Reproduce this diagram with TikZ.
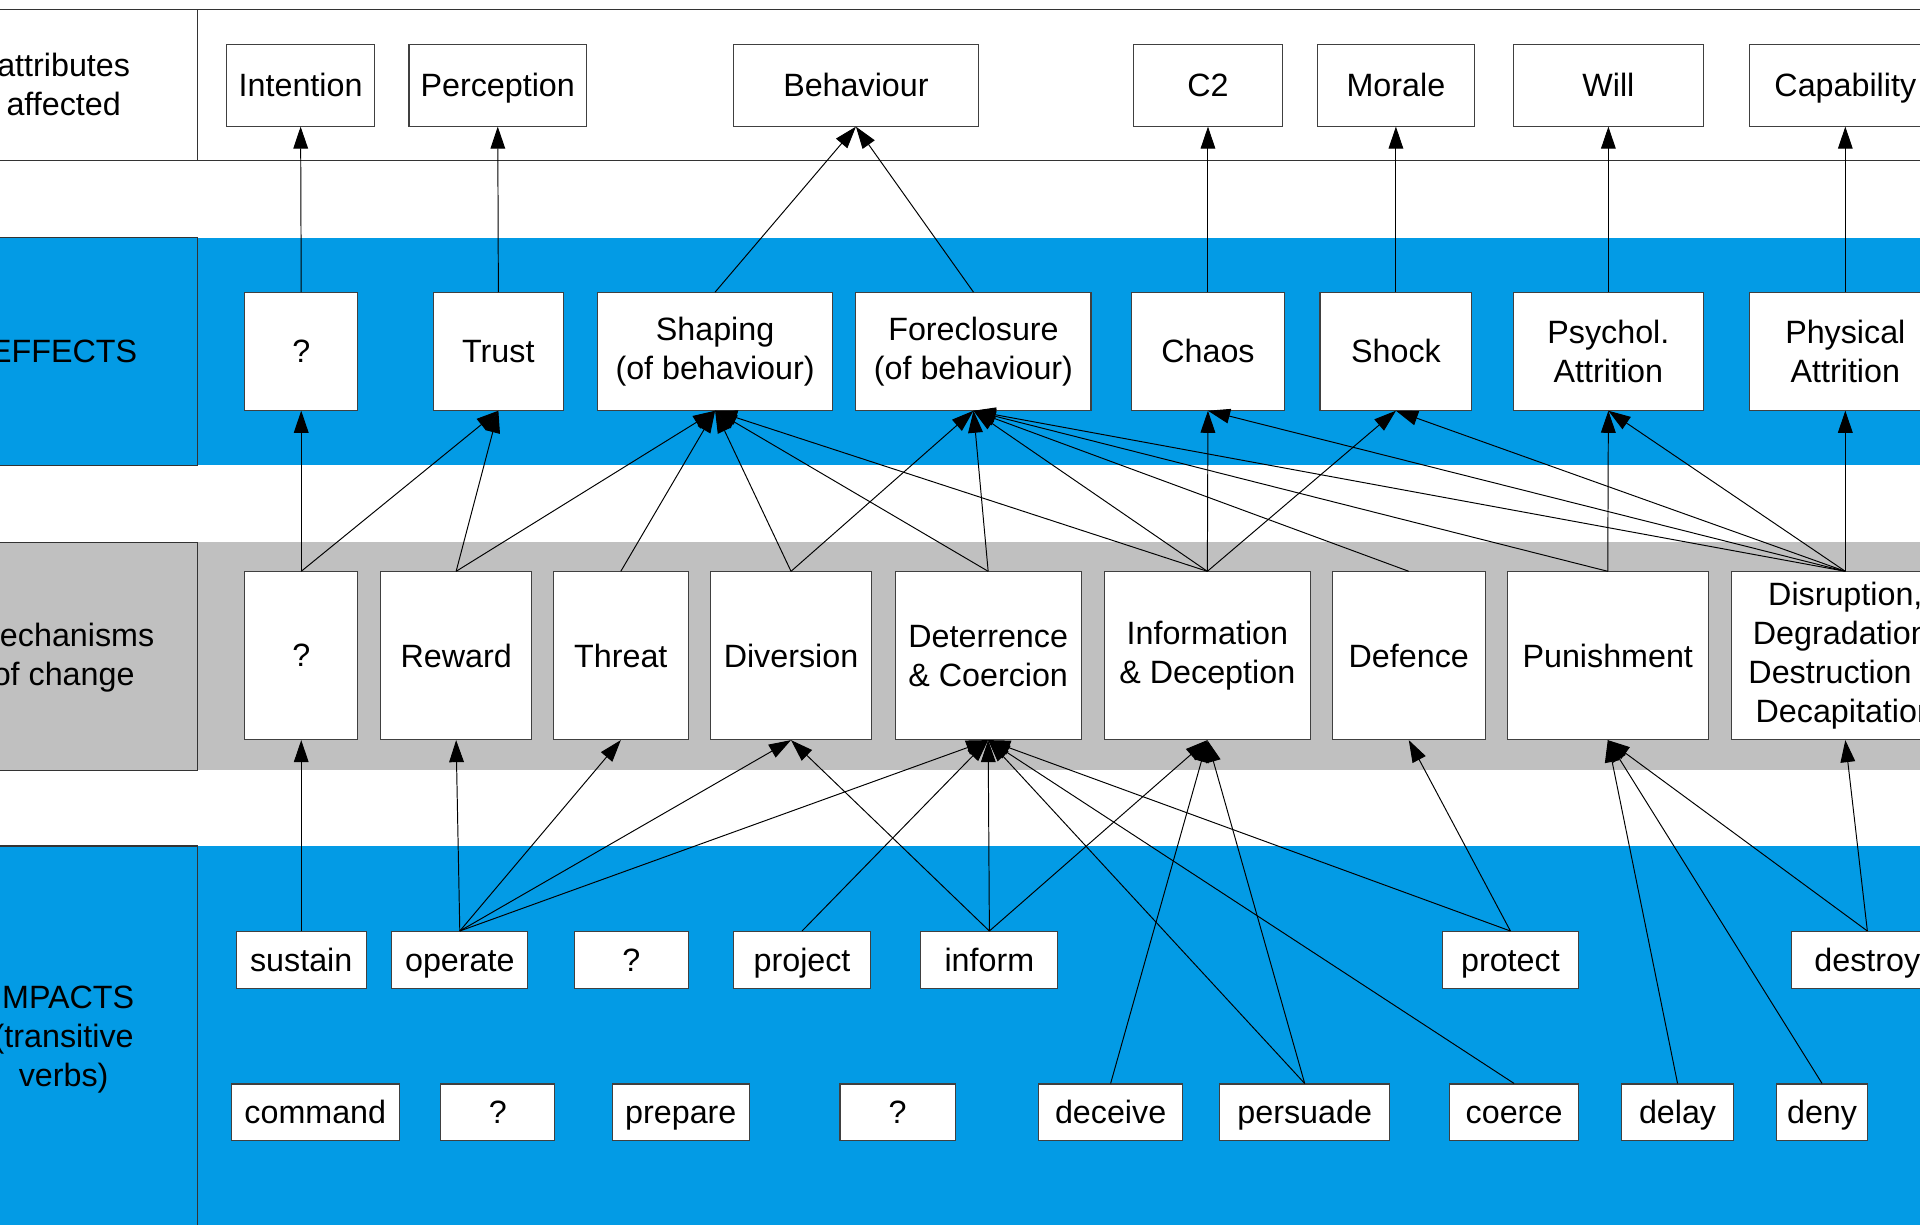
\documentclass[tikz,border=0pt]{standalone}
\usepackage{fontspec}
\setmainfont{Liberation Sans}
\usetikzlibrary{arrows,arrows.meta,positioning}
\definecolor{band_blue}{HTML}{039BE5}
\definecolor{band_grey}{HTML}{C0C0C0}
\newcommand{\boxfont}{\fontsize{15}{18.2}\selectfont}

\begin{document}
\begin{tikzpicture}[
	    x=0.02cm, y=-0.02cm,
	    onlytext/.style={align=center, font=\boxfont},
	    box/.style={rectangle, draw=black!75, fill=white, line width=0.5pt, align=center, font=\boxfont, inner sep=0pt},
	    oneline/.style={text height=12.5pt, text depth=2pt},
	    attrbox/.style={box, oneline, minimum height=1.34cm},
	    effbox/.style={box, minimum height=1.92cm},
	    mechbox/.style={box, minimum height=2.74cm},
	    impbox/.style={box, oneline, minimum height=0.93cm},
	    rowline/.style={draw=black!80, line width=0.6pt},
	    normalline/.style={-{Triangle[length=0.36cm, width=0.24cm]}, line width=0.45pt},
	]
	\path[use as bounding box, clip] (0,0) rectangle (1568,1000);

	% ------------ bands
	\fill[band_blue] (-60,194) rectangle (1620,380);
	\draw[rowline] (-60,194) rectangle (161,380);
	\fill[band_grey] (-60,443) rectangle (1620,629);
	\draw[rowline] (-60,443) rectangle (161,629);
	\fill[band_blue] (-60,691) rectangle (1620,1020);
	\draw[rowline] (-60,691) rectangle (161,1020);
	\draw[rowline] (-60,8) -- (1620,8);
	\draw[rowline] (-60,131) -- (1620,131);
	\draw[rowline] (161,8) -- (161,131);

	\node[onlytext] (attrlabel) at (52,69) {attributes\\affected};
	\node[onlytext] (efflabel) at (52,287) {EFFECTS};
	\node[onlytext] (mechlabel) at (52,537) {Mechanisms\\of change};
	\node[onlytext] (implabel) at (52,849) {IMPACTS\\(transitive\\verbs)};

	% ------------ attributes
	\node[attrbox, minimum width=2.42cm] (intention) at (245.5,69.5) {Intention};
	\node[attrbox, minimum width=2.90cm] (perception) at (406.5,69.5) {Perception};
	\node[attrbox, minimum width=4.00cm] (behaviour) at (699,69.5) {Behaviour};
	\node[attrbox, minimum width=2.42cm] (ctwo) at (986.5,69.5) {C2};
	\node[attrbox, minimum width=2.56cm] (morale) at (1140,69.5) {Morale};
	\node[attrbox, minimum width=3.10cm] (will) at (1313.5,69.5) {Will};
	\node[attrbox, minimum width=3.12cm] (capability) at (1507,69.5) {Capability};

	% ------------ effects
	\node[effbox, minimum width=1.84cm] (effq) at (246,287) {?};
	\node[effbox, minimum width=2.12cm] (efftrust) at (407,287) {Trust};
	\node[effbox, minimum width=3.84cm] (effshaping) at (584,287) {Shaping\\(of behaviour)};
	\node[effbox, minimum width=3.84cm] (effforeclose) at (795,287) {Foreclosure\\(of behaviour)};
	\node[effbox, minimum width=2.50cm] (effchaos) at (986.5,287) {Chaos};
	\node[effbox, minimum width=2.48cm] (effshock) at (1140,287) {Shock};
	\node[effbox, minimum width=3.10cm] (effpsychol) at (1313.5,287) {Psychol.\\Attrition};
	\node[effbox, minimum width=3.12cm] (effphysical) at (1507,287) {Physical\\Attrition};

	% ------------ mechanisms of change
	\node[mechbox, minimum width=1.84cm] (mechq) at (246,535.5) {?};
	\node[mechbox, minimum width=2.46cm] (mechreward) at (372.5,535.5) {Reward};
	\node[mechbox, minimum width=2.20cm] (mechthreat) at (507,535.5) {Threat};
	\node[mechbox, minimum width=2.64cm] (mechdiversion) at (646,535.5) {Diversion};
	\node[mechbox, minimum width=3.04cm] (mechdeter) at (807,535.5) {Deterrence\\\& Coercion};
	\node[mechbox, minimum width=3.36cm] (mechinfo) at (986,535.5) {Information\\\& Deception};
	\node[mechbox, minimum width=2.50cm] (mechdefence) at (1150.5,535.5) {Defence};
	\node[mechbox, minimum width=3.28cm] (mechpunish) at (1313,535.5) {Punishment};
	\node[mechbox, minimum width=3.72cm] (mechdisrupt) at (1507,535.5) {Disruption,\\Degradation,\\Destruction \&\\Decapitation};

	% ------------ impacts
	\node[impbox, minimum width=2.12cm] (sustain) at (246,784) {sustain};
	\node[impbox, minimum width=2.22cm] (operate) at (375.5,784) {operate};
	\node[impbox, minimum width=1.86cm] (impqa) at (515.5,784) {?};
	\node[impbox, minimum width=2.24cm] (project) at (655,784) {project};
	\node[impbox, minimum width=2.24cm] (inform) at (808,784) {inform};
	\node[impbox, minimum width=2.22cm] (protect) at (1233.5,784) {protect};
	\node[impbox, minimum width=2.48cm] (destroy) at (1525,784) {destroy};

	\node[impbox, minimum width=2.74cm] (command) at (257.5,908.5) {command};
	\node[impbox, minimum width=1.86cm] (impqb) at (406.5,908.5) {?};
	\node[impbox, minimum width=2.24cm] (prepare) at (556,908.5) {prepare};
	\node[impbox, minimum width=1.88cm] (impqc) at (733,908.5) {?};
	\node[impbox, minimum width=2.36cm] (deceive) at (907,908.5) {deceive};
	\node[impbox, minimum width=2.78cm] (persuade) at (1065.5,908.5) {persuade};
	\node[impbox, minimum width=2.10cm] (coerce) at (1236.5,908.5) {coerce};
	\node[impbox, minimum width=1.84cm] (delay) at (1370,908.5) {delay};
	\node[impbox, minimum width=1.48cm] (deny) at (1488,908.5) {deny};

	% ------------ effects -> attributes
	\draw [normalline] (effq.north) -- (intention.south);
	\draw [normalline] (efftrust.north) -- (perception.south);
	\draw [normalline] (effshaping.north) -- (behaviour.south);
	\draw [normalline] (effforeclose.north) -- (behaviour.south);
	\draw [normalline] (effchaos.north) -- (ctwo.south);
	\draw [normalline] (effshock.north) -- (morale.south);
	\draw [normalline] (effpsychol.north) -- (will.south);
	\draw [normalline] (effphysical.north) -- (capability.south);

	% ------------ mechanisms -> effects
	\draw [normalline] (mechq.north) -- (effq.south);
	\draw [normalline] (mechq.north) -- (efftrust.south);
	\draw [normalline] (mechreward.north) -- (efftrust.south);
	\draw [normalline] (mechreward.north) -- (effshaping.south);
	\draw [normalline] (mechthreat.north) -- (effshaping.south);
	\draw [normalline] (mechdiversion.north) -- (effshaping.south);
	\draw [normalline] (mechdiversion.north) -- (effforeclose.south);
	\draw [normalline] (mechdeter.north) -- (effshaping.south);
	\draw [normalline] (mechdeter.north) -- (effforeclose.south);
	\draw [normalline] (mechinfo.north) -- (effshaping.south);
	\draw [normalline] (mechinfo.north) -- (effforeclose.south);
	\draw [normalline] (mechinfo.north) -- (effchaos.south);
	\draw [normalline] (mechinfo.north) -- (effshock.south);
	\draw [normalline] (mechdefence.north) -- (effforeclose.south);
	\draw [normalline] (mechpunish.north) -- (effforeclose.south);
	\draw [normalline] (mechpunish.north) -- (effpsychol.south);
	\draw [normalline] (mechdisrupt.north) -- (effforeclose.south);
	\draw [normalline] (mechdisrupt.north) -- (effchaos.south);
	\draw [normalline] (mechdisrupt.north) -- (effshock.south);
	\draw [normalline] (mechdisrupt.north) -- (effpsychol.south);
	\draw [normalline] (mechdisrupt.north) -- (effphysical.south);

	% ------------ impacts -> mechanisms
	\draw [normalline] (sustain.north) -- (mechq.south);
	\draw [normalline] (operate.north) -- (mechreward.south);
	\draw [normalline] (operate.north) -- (mechthreat.south);
	\draw [normalline] (operate.north) -- (mechdiversion.south);
	\draw [normalline] (operate.north) -- (mechdeter.south);
	\draw [normalline] (project.north) -- (mechdeter.south);
	\draw [normalline] (inform.north) -- (mechdiversion.south);
	\draw [normalline] (inform.north) -- (mechdeter.south);
	\draw [normalline] (inform.north) -- (mechinfo.south);
	\draw [normalline] (protect.north) -- (mechdeter.south);
	\draw [normalline] (protect.north) -- (mechdefence.south);
	\draw [normalline] (destroy.north) -- (mechpunish.south);
	\draw [normalline] (destroy.north) -- (mechdisrupt.south);
	\draw [normalline] (deceive.north) -- (mechinfo.south);
	\draw [normalline] (persuade.north) -- (mechdeter.south);
	\draw [normalline] (persuade.north) -- (mechinfo.south);
	\draw [normalline] (coerce.north) -- (mechdeter.south);
	\draw [normalline] (delay.north) -- (mechpunish.south);
	\draw [normalline] (deny.north) -- (mechpunish.south);

	\end{tikzpicture}
\end{document}
